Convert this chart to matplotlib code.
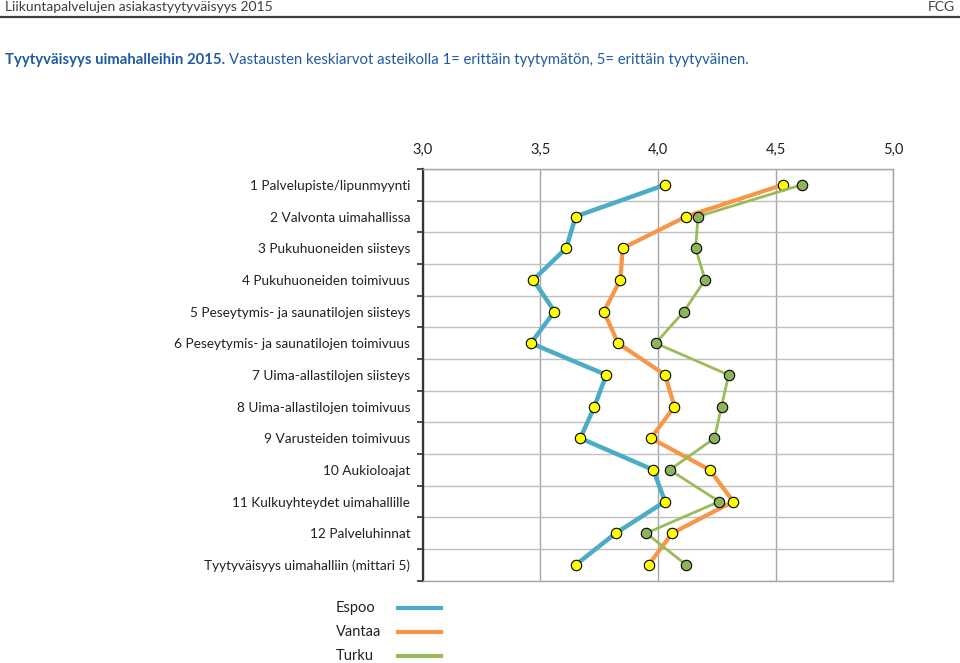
import matplotlib
matplotlib.use("Agg")
import matplotlib.pyplot as plt
from matplotlib.lines import Line2D
import numpy as np

plt.rcParams['font.family'] = ['Lato', 'DejaVu Sans']

categories = [
    "1 Palvelupiste/lipunmyynti",
    "2 Valvonta uimahallissa",
    "3 Pukuhuoneiden siisteys",
    "4 Pukuhuoneiden toimivuus",
    "5 Peseytymis- ja saunatilojen siisteys",
    "6 Peseytymis- ja saunatilojen toimivuus",
    "7 Uima-allastilojen siisteys",
    "8 Uima-allastilojen toimivuus",
    "9 Varusteiden toimivuus",
    "10 Aukioloajat",
    "11 Kulkuyhteydet uimahallille",
    "12 Palveluhinnat",
    "Tyytyväisyys uimahalliin (mittari 5)",
]
espoo = [4.03, 3.65, 3.61, 3.47, 3.56, 3.46, 3.78, 3.73, 3.67, 3.98, 4.03, 3.82, 3.65]
vantaa = [4.53, 4.12, 3.85, 3.84, 3.77, 3.83, 4.03, 4.07, 3.97, 4.22, 4.32, 4.06, 3.96]
turku = [4.61, 4.17, 4.16, 4.20, 4.11, 3.99, 4.30, 4.27, 4.24, 4.05, 4.26, 3.95, 4.12]
xticks = [3.0, 3.5, 4.0, 4.5, 5.0]
xtick_labels = ["3,0", "3,5", "4,0", "4,5", "5,0"]

c_espoo = "#4BACC6"
c_vantaa = "#F79646"
c_turku = "#9BBB59"

fig = plt.figure(figsize=(9.6, 6.63), dpi=100)
ax = fig.add_axes([0.4403, 0.1241, 0.4902, 0.621])

y = np.arange(len(categories))
ax.plot(espoo, y, color=c_espoo, lw=3.2, marker="o", ms=7.5,
        mfc="#FFFF00", mec="black", mew=0.8, zorder=3)
ax.plot(vantaa, y, color=c_vantaa, lw=3.0, marker="o", ms=7.5,
        mfc="#FFFF00", mec="black", mew=0.8, zorder=3)
ax.plot(turku, y, color=c_turku, lw=2.0, marker="o", ms=7.5,
        mfc="#8DB45A", mec="black", mew=0.8, zorder=3)

ax.set_xlim(3.0, 5.0)
ax.set_ylim(len(categories) - 0.5, -0.5)
ax.xaxis.tick_top()
ax.set_xticks(xticks)
ax.set_xticklabels(xtick_labels, fontsize=10.5, color="#222222")
ax.tick_params(axis="x", length=0, pad=9)
ax.set_yticks(y)
ax.set_yticklabels(categories, fontsize=9.8, color="#222222")
ax.tick_params(axis="y", which="major", length=0, pad=9)
ax.set_yticks(np.arange(-0.5, len(categories) + 0.5, 1), minor=True)
ax.tick_params(axis="y", which="minor", length=4, width=1.2, color="#333333", direction="out")
ax.grid(True, axis="x", color="#A6A6A6", lw=1.0)
ax.grid(True, axis="y", which="minor", color="#BFBFBF", lw=1.0)
ax.set_axisbelow(True)
for side in ["top", "right", "bottom"]:
    ax.spines[side].set_color("#A6A6A6")
    ax.spines[side].set_linewidth(1.0)
ax.spines["left"].set_color("#333333")
ax.spines["left"].set_linewidth(1.6)

# header
fig.text(5 / 960, 1 - 7 / 663, "Liikuntapalvelujen asiakastyytyväisyys 2015",
         fontsize=10, color="#3F3F3F", va="center", ha="left")
fig.text(955 / 960, 1 - 7 / 663, "FCG", fontsize=10, color="#3F3F3F",
         va="center", ha="right")
fig.add_artist(Line2D([0, 1], [1 - 17 / 663, 1 - 17 / 663], color="#3F3F3F", lw=1.6))

# title
title_color = "#1F5AA6"
t1 = fig.text(5 / 960, 1 - 60 / 663, "Tyytyväisyys uimahalleihin 2015.",
              fontsize=10.75, fontweight="bold", color=title_color, va="center", ha="left")
fig.canvas.draw()
bb = t1.get_window_extent(renderer=fig.canvas.get_renderer())
fig.text((bb.x1 + 4) / 960, 1 - 60 / 663,
         "Vastausten keskiarvot asteikolla 1= erittäin tyytymätön, 5= erittäin tyytyväinen.",
         fontsize=10.75, color=title_color, va="center", ha="left")

# legend
legend_items = [("Espoo", c_espoo, 608), ("Vantaa", c_vantaa, 632), ("Turku", c_turku, 656)]
for name, col, ypx in legend_items:
    fig.text(336 / 960, 1 - ypx / 663, name, fontsize=10.5, color="#222222",
             va="center", ha="left")
    fig.add_artist(Line2D([398 / 960, 441 / 960], [1 - ypx / 663, 1 - ypx / 663],
                          color=col, lw=3.0))

fig.savefig("out.png", dpi=100)
